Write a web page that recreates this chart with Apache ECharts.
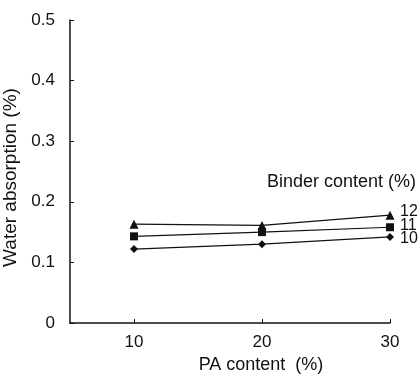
<!DOCTYPE html>
<html>
<head>
<meta charset="utf-8">
<script src="https://cdn.jsdelivr.net/npm/echarts@6/dist/echarts.min.js"></script>
<style>html,body{margin:0;padding:0;background:#fff}#c{width:419px;height:381px}</style>
</head>
<body>
<div id="c"></div>
<script>
var paContent = [10, 20, 30];
var binder12 = [0.163, 0.161, 0.178];
var binder11 = [0.143, 0.150, 0.158];
var binder10 = [0.122, 0.130, 0.142];
var seriesNames = ['12', '11', '10'];
var yTicks = [0, 0.1, 0.2, 0.3, 0.4, 0.5];

var FONT = 'Liberation Sans, Arial, sans-serif';
function pairs(v){ return paContent.map(function(x,i){ return [x, v[i]]; }); }
var symbols = ['triangle', 'rect', 'diamond'];
var sizes = [9, 8, 8];
var vals = [binder12, binder11, binder10];

var chart = echarts.init(document.getElementById('c'), null, {renderer: 'canvas'});
chart.setOption({
  animation: false,
  backgroundColor: '#fff',
  textStyle: {fontFamily: FONT, color: '#111'},
  grid: {left: 70, right: 29, top: 20, bottom: 58, containLabel: false, outerBoundsMode: 'none'},
  xAxis: {
    type: 'value', min: 5, max: 30,
    name: 'PA content  (%)', nameLocation: 'middle', nameGap: 33,
    nameTextStyle: {fontFamily: FONT, fontSize: 18, color: '#111', padding: [0, 0, 0, 62]},
    axisLine: {lineStyle: {color: '#111', width: 1.5}},
    axisTick: {inside: true, length: 4, lineStyle: {color: '#111'}, customValues: paContent},
    axisLabel: {fontFamily: FONT, fontSize: 17, color: '#111', margin: 11, customValues: paContent},
    splitLine: {show: false}
  },
  yAxis: {
    type: 'value', min: 0, max: 0.5, interval: 0.1,
    name: 'Water absorption (%)', nameLocation: 'middle', nameGap: 41,
    nameTextStyle: {fontFamily: FONT, fontSize: 19, color: '#111', padding: [0, 12, 0, 0]},
    axisLine: {show: true, lineStyle: {color: '#111', width: 1.5}},
    axisTick: {show: true, inside: true, length: 4, lineStyle: {color: '#111'}},
    axisLabel: {fontFamily: FONT, fontSize: 17, color: '#111', margin: 15,
      formatter: function(v){ return yTicks.indexOf(Math.round(v*10)/10) >= 0 ? String(Math.round(v*10)/10) : ''; }},
    splitLine: {show: false}
  },
  graphic: [{
    type: 'text', left: 267, top: 173,
    style: {text: 'Binder content (%)', fontFamily: FONT, fontSize: 18, fill: '#111'}
  }],
  series: vals.map(function(v, i){
    return {
      type: 'line', name: seriesNames[i], data: pairs(v),
      symbol: symbols[i], symbolSize: sizes[i], showSymbol: true,
      lineStyle: {color: '#111', width: 1.2},
      itemStyle: {color: '#111'},
      endLabel: {show: true, formatter: '{a}', fontFamily: FONT, fontSize: 16, color: '#111', distance: 10,
        offset: [0, i === 0 ? -4 : (i === 1 ? -2 : 2)]}
    };
  })
});
</script>
</body>
</html>
